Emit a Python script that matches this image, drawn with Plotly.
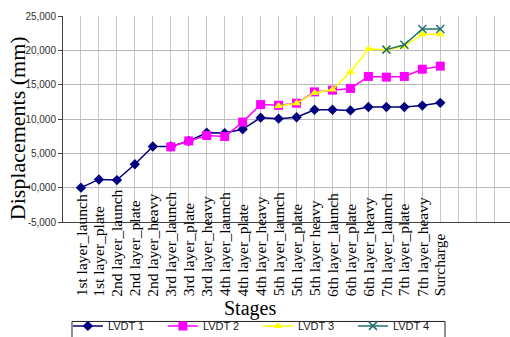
import plotly.graph_objects as go

stages = ["1st layer_launch", "1st layer_plate", "2nd layer_launch", "2nd layer_plate",
          "2nd layer_heavy", "3rd layer_launch", "3rd layer_plate", "3rd layer_heavy",
          "4th layer_launch", "4th layer_plate", "4th layer_heavy", "5th layer_launch",
          "5th layer_plate", "5th layer heavy", "6th layer_launch", "6th layer_plate",
          "6th layer_heavy", "7th layer_launch", "7th layer_plate", "7th layer_heavy",
          "Surcharge"]

lvdt1 = [0, 1200, 1100, 3400, 6000, 6000, 6800, 8000, 7950, 8500, 10200, 10050, 10250,
         11350, 11350, 11250, 11750, 11750, 11750, 11950, 12350]
lvdt2 = [None, None, None, None, None, 5950, 6800, 7600, 7450, 9550, 12100, 12000, 12300,
         13950, 14200, 14450, 16200, 16100, 16200, 17250, 17700]
lvdt3 = [None] * 11 + [11900, 12300, 13800, 14300, 16850, 20200, 20100, 20550, 22350, 22350]
lvdt4 = [None] * 17 + [20100, 20800, 23100, 23100]

ytick_vals = [-5000, 0, 5000, 10000, 15000, 20000, 25000]
ytick_text = ["-5,000", "0,000", "5,000", "10,000", "15,000", "20,000", "25,000"]

n_extra = 3  # empty category slots drawn on the right of the plot
x = list(range(len(stages)))

fig = go.Figure()
series = [
    ("LVDT 1", lvdt1, "#000080", dict(symbol="diamond", size=8, color="#000080")),
    ("LVDT 2", lvdt2, "#FF00FF", dict(symbol="square", size=9, color="#FF00FF")),
    ("LVDT 3", lvdt3, "#FFFF00", dict(symbol="triangle-up", size=8, color="#FFFF00")),
    ("LVDT 4", lvdt4, "#1F7070", dict(symbol="x-thin-open", size=8,
                                       line=dict(width=1.5, color="#103030"))),
]
for name, vals, col, mk in series:
    fig.add_trace(go.Scatter(x=x, y=vals, name=name, mode="lines+markers",
                             line=dict(color=col, width=1.5), marker=mk,
                             connectgaps=False))

xt_vals = list(range(-1, len(stages) + n_extra))

# category labels: rotated, bottom-aligned (as in the reference)
label_font = dict(family="Liberation Serif, Times New Roman", size=15.5, color="black")
annotations = [
    dict(text=s, x=i, y=-0.366, xref="x", yref="paper", textangle=-90,
         showarrow=False, xanchor="center", yanchor="bottom", font=label_font,
         borderpad=0)
    for i, s in zip(x, stages)
]
annotations += [
    dict(text="Displacements (mm)", x=-0.103, y=0.455, xref="paper", yref="paper",
         textangle=-90, showarrow=False, xanchor="center", yanchor="middle",
         font=dict(family="Liberation Serif, Times New Roman", size=22, color="black")),
    dict(text="Stages", x=0.418, y=-0.42, xref="paper", yref="paper",
         showarrow=False, xanchor="center", yanchor="middle",
         font=dict(family="Liberation Serif, Times New Roman", size=20, color="black")),
]

fig.update_layout(
    width=510, height=337,
    margin=dict(l=63, r=0, t=16, b=115, pad=0, autoexpand=False),
    paper_bgcolor="white", plot_bgcolor="white",
    showlegend=True,
    legend=dict(orientation="h", x=0.011, y=-0.434, xanchor="left", yanchor="top",
                bgcolor="rgba(0,0,0,0)", borderwidth=0, entrywidth=50,
                font=dict(family="Liberation Sans, Arial", size=11, color="#202020"),
                tracegroupgap=0),
    shapes=[dict(type="rect", xref="paper", yref="paper", x0=0.0201, x1=0.8546,
                 y0=-0.4828, y1=-0.60, line=dict(color="#202020", width=1),
                 fillcolor="rgba(0,0,0,0)", layer="above")],
    xaxis=dict(range=[-1, 23.88], tickmode="array", tickvals=xt_vals,
               showticklabels=False, showgrid=True, gridcolor="#c8c8c8", gridwidth=1,
               showline=True, linecolor="#404040", linewidth=1, zeroline=False,
               ticks="", automargin=False),
    yaxis=dict(range=[-5000, 25000], tickmode="array", tickvals=ytick_vals,
               ticktext=ytick_text, showgrid=True, gridcolor="#b8b8b8", gridwidth=1,
               showline=True, linecolor="#404040", linewidth=1, zeroline=False,
               ticks="outside", ticklen=4, tickcolor="#404040", automargin=False,
               tickfont=dict(family="Liberation Sans, Arial", size=10, color="#303030")),
    annotations=annotations,
)

fig.write_html("out.html")
